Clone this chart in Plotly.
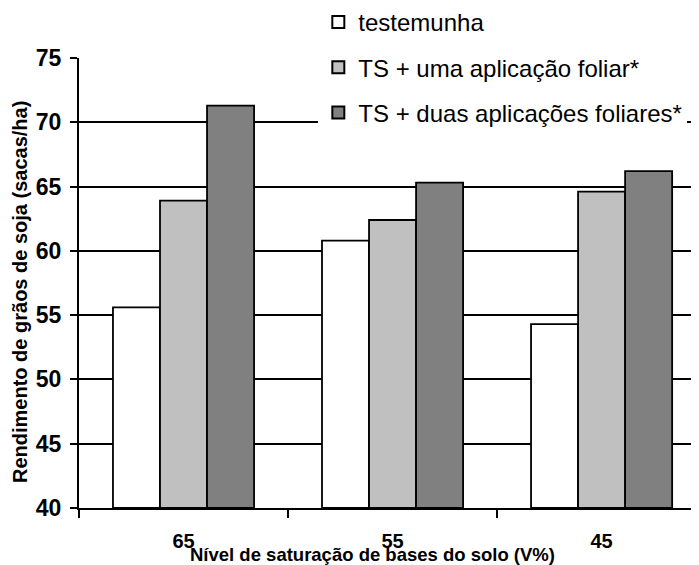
import plotly.graph_objects as go

categories = ["65", "55", "45"]
series_names = ["testemunha", "TS + uma aplicação foliar*", "TS + duas aplicações foliares*"]
testemunha = [55.6, 60.8, 54.3]
uma_aplicacao = [63.9, 62.4, 64.6]
duas_aplicacoes = [71.3, 65.3, 66.2]
series_values = [testemunha, uma_aplicacao, duas_aplicacoes]
colors = ["#FFFFFF", "#C0C0C0", "#808080"]
y_ticks = [40, 45, 50, 55, 60, 65, 70, 75]
x_title = "Nível de saturação de bases do solo (V%)"
y_title = "Rendimento de grãos de soja (sacas/ha)"

fig = go.Figure()
for i, (name, vals) in enumerate(zip(series_names, series_values)):
    fig.add_trace(go.Bar(
        x=categories, y=[v - 40 for v in vals], base=40, name=name,
        marker=dict(color=colors[i], line=dict(color="#000000", width=1.8)),
        legendgroup=f"g{i}",
    ))

SANS = "Liberation Sans, Arial, sans-serif"

fig.update_layout(
    width=691, height=557,
    margin=dict(l=71, r=0, t=50, b=57, autoexpand=False),
    paper_bgcolor="white", plot_bgcolor="white",
    barmode="group", bargap=0.325, bargroupgap=0,
    font=dict(family=SANS, color="#000000"),
    showlegend=True,
    legend=dict(
        x=0.386, y=1.129, xanchor="left", yanchor="top",
        bgcolor="white", borderwidth=0,
        font=dict(size=24, family=SANS),
        tracegroupgap=11, itemsizing="constant",
        entrywidth=420,
    ),
    xaxis=dict(
        type="category", range=[-0.5, 2.466],
        showline=True, linecolor="#000000", linewidth=2,
        ticks="outside", tickson="boundaries", ticklen=8, tickwidth=2, tickcolor="#000000",
        tickfont=dict(size=20, family=SANS, color="#000000", weight="bold"),
        ticklabelstandoff=14,
        showgrid=False, zeroline=False,
    ),
    yaxis=dict(
        range=[40, 75], tickvals=y_ticks,
        showline=True, linecolor="#000000", linewidth=2,
        ticks="outside", ticklen=7, tickwidth=2, tickcolor="#000000",
        tickfont=dict(size=23, family=SANS, color="#000000", weight="bold"),
        ticklabelstandoff=4,
        showgrid=True, gridcolor="#000000", gridwidth=2,
        zeroline=False,
    ),
    annotations=[
        dict(text=x_title, xref="paper", yref="paper", x=(372 - 79) / 620, y=-(554 - 508) / 450,
             xanchor="center", yanchor="middle", showarrow=False,
             font=dict(size=18.5, family=SANS, weight="bold")),
        dict(text=y_title, xref="paper", yref="paper", x=(20 - 79) / 620, y=(508 - 292) / 450,
             xanchor="center", yanchor="middle", showarrow=False, textangle=-90,
             font=dict(size=20, family=SANS, weight="bold")),
    ],
)

fig.write_html("out.html")
